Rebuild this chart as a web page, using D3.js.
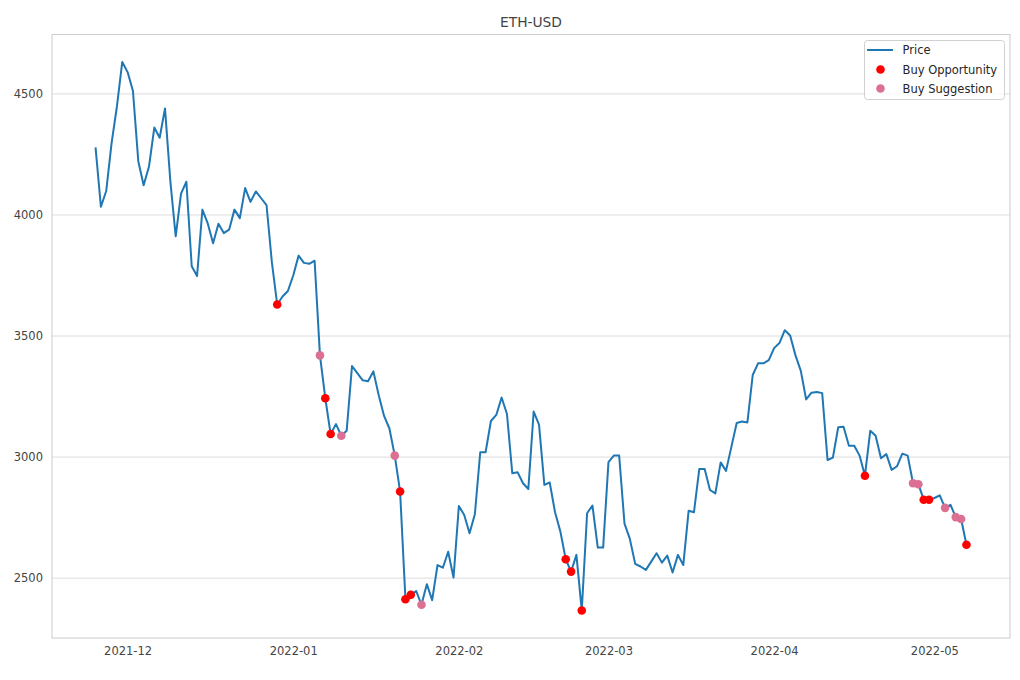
<!DOCTYPE html>
<html><head><meta charset="utf-8">
<script src="https://cdn.jsdelivr.net/npm/d3@7"></script>
<style>body{margin:0;background:#fff}svg{display:block;font-family:"DejaVu Sans",sans-serif}</style>
</head><body><svg id="c" width="1020" height="680"></svg>
<script>
const chartTitle = "ETH-USD";
const startDate = "2021-11-25";
const prices = [
 4277,4032,4097,4295,4446,4630,
 4588,4510,4220,4121,4198,4359,4317,4438,4137,3910,4086,4135,3786,3746,4020,3963,3881,3962,3923,3937,4020,3985,4109,4052,4095,4067,4039,3803,3628,3661,3684,
 3748,3830,3800,3796,3809,3418,3241,3093,3134,3086,3107,3374,3345,3315,3311,3352,3253,3168,3116,3004,2856,2411,2429,2445,2388,2473,2407,2552,2541,2607,2500,
 2796,2759,2683,2763,3018,3018,3147,3172,3244,3176,2931,2935,2890,2866,3186,3132,2883,2893,2770,2690,2576,2525,2594,2364,2766,2798,2624,2624,
 2977,3004,3004,2723,2660,2557,2546,2532,2566,2601,2562,2591,2521,2594,2552,2776,2770,2949,2949,2862,2848,2976,2941,3040,3139,3145,3141,3337,3385,3385,3398,
 3448,3469,3522,3500,3418,3354,3236,3264,3267,3262,2986,2996,3121,3123,3045,3045,3004,2921,3107,3086,2993,3010,2945,2960,3012,3004,2890,2886,2822,2822,
 2829,2840,2788,2801,2750,2742,2636
];
const buyOpportunityDates = ["2021-12-29","2022-01-07","2022-01-08","2022-01-21","2022-01-22","2022-01-23","2022-02-21","2022-02-22","2022-02-24","2022-04-18","2022-04-29","2022-04-30","2022-05-07"];
const buySuggestionDates = ["2022-01-06","2022-01-10","2022-01-20","2022-01-25","2022-04-27","2022-04-28","2022-05-03","2022-05-05","2022-05-06"];
const yTickValues = [2500,3000,3500,4000,4500];
const xTickLabels = ["2021-12","2022-01","2022-02","2022-03","2022-04","2022-05"];
const seriesNames = ["Price","Buy Opportunity","Buy Suggestion"];
const seriesColors = ["#1f77b4","#ff0000","#db7093"];

const svg = d3.select("#c");
const L = 52, R = 1010, T = 34.5, B = 638;
const parseDay = d3.utcParse("%Y-%m-%d");
const parseMonth = d3.utcParse("%Y-%m");
const start = parseDay(startDate);
const data = prices.map((v,i)=>({date:d3.utcDay.offset(start,i), value:v}));
const byKey = new Map(data.map(d=>[d3.utcFormat("%Y-%m-%d")(d.date), d]));
const opp = buyOpportunityDates.map(k=>byKey.get(k));
const sug = buySuggestionDates.map(k=>byKey.get(k));

const xe = d3.extent(data,d=>d.date), xp = (xe[1]-xe[0])*0.05;
const x = d3.scaleUtc().domain([new Date(+xe[0]-xp), new Date(+xe[1]+xp)]).range([L,R]);
const ye = d3.extent(data,d=>d.value), yp = (ye[1]-ye[0])*0.05;
const y = d3.scaleLinear().domain([ye[0]-yp, ye[1]+yp]).range([B,T]);

// grid + y axis
const gy = svg.append("g").attr("transform",`translate(${L},0)`)
  .call(d3.axisLeft(y).tickValues(yTickValues).tickSize(-(R-L)).tickPadding(9).tickFormat(d3.format("d")));
gy.select(".domain").remove();
gy.selectAll("line").attr("stroke","#dcdcdc").attr("stroke-width",1);
gy.selectAll("text").attr("fill","#444").attr("font-size","11.5px").attr("font-family","DejaVu Sans");

const gx = svg.append("g").attr("transform",`translate(0,${B})`)
  .call(d3.axisBottom(x).tickValues(xTickLabels.map(s=>parseMonth(s))).tickSize(0).tickPadding(9).tickFormat(d3.utcFormat("%Y-%m")));
gx.select(".domain").remove();
gx.selectAll("text").attr("fill","#444").attr("font-size","11.5px").attr("font-family","DejaVu Sans");

// frame
svg.append("rect").attr("x",L).attr("y",T).attr("width",R-L).attr("height",B-T)
  .attr("fill","none").attr("stroke","#d0d0d0").attr("stroke-width",1.1);

// line
svg.append("path").datum(data)
  .attr("d", d3.line().x(d=>x(d.date)).y(d=>y(d.value)))
  .attr("fill","none").attr("stroke",seriesColors[0]).attr("stroke-width",2).attr("stroke-linejoin","round");

svg.append("g").selectAll("circle").data(opp).join("circle")
  .attr("cx",d=>x(d.date)).attr("cy",d=>y(d.value)).attr("r",4.3).attr("fill",seriesColors[1]);
svg.append("g").selectAll("circle").data(sug).join("circle")
  .attr("cx",d=>x(d.date)).attr("cy",d=>y(d.value)).attr("r",4.3).attr("fill",seriesColors[2]);

// title
svg.append("text").attr("x",(L+R)/2).attr("y",27).attr("text-anchor","middle")
  .attr("font-size","13.8px").attr("fill","#444").text(chartTitle);

// legend
const lg = svg.append("g");
lg.append("rect").attr("x",864.5).attr("y",40.5).attr("width",140).attr("height",59).attr("rx",3)
  .attr("fill","#fff").attr("fill-opacity",0.8).attr("stroke","#d0d0d0");
const rowsY = [50,69.5,88.5];
lg.append("line").attr("x1",867).attr("x2",893).attr("y1",rowsY[0]).attr("y2",rowsY[0])
  .attr("stroke",seriesColors[0]).attr("stroke-width",2);
lg.append("circle").attr("cx",880.5).attr("cy",rowsY[1]).attr("r",4.3).attr("fill",seriesColors[1]);
lg.append("circle").attr("cx",880.5).attr("cy",rowsY[2]).attr("r",4.3).attr("fill",seriesColors[2]);
seriesNames.forEach((n,i)=>{
  lg.append("text").attr("x",902.5).attr("y",rowsY[i]).attr("dy","0.36em")
    .attr("font-size","11.5px").attr("fill","#262626").text(n);
});
</script></body></html>
